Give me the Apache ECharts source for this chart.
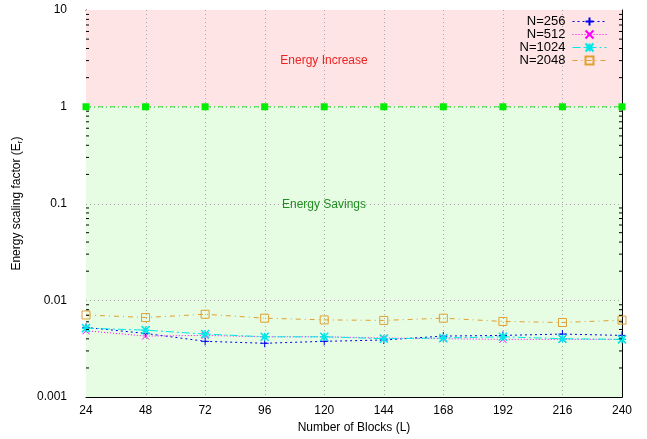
<!DOCTYPE html>
<html><head><meta charset="utf-8">
<script src="https://cdn.jsdelivr.net/npm/echarts@6/dist/echarts.min.js"></script>
<style>html,body{margin:0;padding:0;background:#fff}#c{width:647px;height:439px}</style>
</head><body><div id="c"></div>
<script>
var blocks = [24, 48, 72, 96, 120, 144, 168, 192, 216, 240];
var n256  = [0.00525, 0.00455, 0.00377, 0.00360, 0.00377, 0.00389, 0.00427, 0.00434, 0.00448, 0.00434];
var n512  = [0.00485, 0.00427, 0.00434, 0.00420, 0.00420, 0.00408, 0.00401, 0.00395, 0.00395, 0.00395];
var n1024 = [0.00516, 0.00492, 0.00448, 0.00420, 0.00420, 0.00401, 0.00408, 0.00420, 0.00401, 0.00395];
var n2048 = [0.00706, 0.00664, 0.00718, 0.00654, 0.00628, 0.00620, 0.00654, 0.00605, 0.00590, 0.00624];
var baseline = [1, 1, 1, 1, 1, 1, 1, 1, 1, 1];
var seriesNames = ['N=256', 'N=512', 'N=1024', 'N=2048'];
var yTickLabels = ['0.001', '0.01', '0.1', '1', '10'];

function pairs(arr){ return blocks.map(function(x,i){ return [x, arr[i]]; }); }

var FONT = 'Liberation Sans, Arial, sans-serif';
var PLUS = 'path://M5,0L5,10M0,5L10,5';
var CROSS = 'path://M0,0L10,10M10,0L0,10';
var STAR = 'path://M5,0L5,10M0,5L10,5M0,0L10,10M10,0L0,10';
var SQUARE = 'path://M0,0L10,0L10,10L0,10Z';

var minorVals = [];
for (var k = -3; k <= 0; k++) for (var m = 2; m <= 9; m++) minorVals.push([24, m * Math.pow(10, k)]);
var gridX = blocks.slice(1, blocks.length - 1);
var gridY = [0.01, 0.1, 1];

function mkSeries(name, arr, color, dash, symbol, size, width){
  return {
    name: name, type: 'line', data: pairs(arr), symbol: symbol, symbolSize: size,
    lineStyle: {color: color, width: 1, type: dash},
    itemStyle: {color: 'rgba(0,0,0,0)', borderColor: color, borderWidth: width || 1},
    z: 5, animation: false
  };
}

var GRIDSTYLE = {stroke: '#a8a8a8', lineWidth: 1, lineDash: [1, 3]};
var legendTops = [15, 28, 41, 54];

var chart = echarts.init(document.getElementById('c'), null, {renderer: 'canvas'});
chart.setOption({
  animation: false,
  backgroundColor: '#fff',
  textStyle: {fontFamily: FONT},
  grid: {left: 86, right: 25, top: 10, bottom: 41},
  legend: seriesNames.map(function(n, i){
    return {
      data: [n], orient: 'vertical', align: 'right', right: 40, top: legendTops[i],
      padding: 0, itemWidth: 34, itemHeight: 10,
      lineStyle: {width: 1},
      textStyle: {fontFamily: FONT, fontSize: 13, color: '#000', padding: [0, 2, 0, 0]}
    };
  }),
  xAxis: [{
    type: 'value', min: 24, max: 240, interval: 24,
    name: 'Number of Blocks (L)', nameLocation: 'middle', nameGap: 23,
    nameTextStyle: {fontFamily: FONT, fontSize: 12, color: '#000'},
    axisLine: {show: true, lineStyle: {color: '#000', width: 1}},
    axisTick: {show: true, inside: true, length: 5, lineStyle: {color: '#000'}},
    axisLabel: {color: '#000', fontSize: 12, fontFamily: FONT, margin: 8},
    splitLine: {show: false}
  }, {
    type: 'value', min: 24, max: 240, interval: 24, position: 'top',
    axisLine: {show: true, onZero: false, lineStyle: {color: '#000', width: 1}},
    axisTick: {show: true, inside: true, length: 5, lineStyle: {color: '#000'}},
    axisLabel: {show: false}, splitLine: {show: false}
  }],
  yAxis: [{
    type: 'log', logBase: 10, min: 0.001, max: 10,
    name: 'Energy scaling factor (E{sub|r})', nameLocation: 'middle', nameGap: 62,
    nameTextStyle: {fontFamily: FONT, fontSize: 12, color: '#000',
      rich: {sub: {fontSize: 8, verticalAlign: 'bottom', padding: [6, 0, 0, 0], fontFamily: FONT}}},
    axisLine: {show: true, lineStyle: {color: '#000', width: 1}},
    axisTick: {show: true, inside: true, length: 6, lineStyle: {color: '#000'}},
    axisLabel: {color: '#000', fontSize: 12, fontFamily: FONT, margin: 19,
      formatter: function(v){
        var e = Math.round(Math.log10(v));
        return yTickLabels[e + 3];
      }},
    splitLine: {show: false}
  }, {
    type: 'log', logBase: 10, min: 0.001, max: 10, position: 'right',
    axisLine: {show: true, onZero: false, lineStyle: {color: '#000', width: 1}},
    axisTick: {show: true, inside: true, length: 6, lineStyle: {color: '#000'}},
    axisLabel: {show: false}, splitLine: {show: false}
  }],
  series: [
    {
      name: 'bg', type: 'line', data: [], silent: true, z: 0,
      markArea: {silent: true, data: [
        [{yAxis: 1, itemStyle: {color: '#fee4e4'}}, {yAxis: 10}],
        [{yAxis: 0.001, itemStyle: {color: '#e6fde4'}}, {yAxis: 1}]
      ]}
    },
    {
      name: 'gridV', type: 'custom', data: gridX.map(function(x){ return [x, 1]; }), silent: true, z: 1,
      renderItem: function(params, api){
        var a = api.coord([api.value(0), 10]);
        var b = api.coord([api.value(0), 0.001]);
        var x = Math.round(a[0]) + 0.5;
        return {type: 'line', shape: {x1: x, y1: a[1], x2: x, y2: b[1]}, style: GRIDSTYLE};
      }
    },
    {
      name: 'gridH', type: 'custom', data: gridY.map(function(y){ return [24, y]; }), silent: true, z: 1,
      renderItem: function(params, api){
        var a = api.coord([24, api.value(1)]);
        var b = api.coord([240, api.value(1)]);
        var y = Math.round(a[1]) + 0.5;
        return {type: 'line', shape: {x1: a[0], y1: y, x2: b[0], y2: y}, style: GRIDSTYLE};
      }
    },
    {
      name: 'minor', type: 'custom', data: minorVals, silent: true, z: 6,
      renderItem: function(params, api){
        var p = api.coord([24, api.value(1)]);
        var r = api.coord([240, api.value(1)]);
        return {type: 'group', children: [
          {type: 'line', shape: {x1: p[0], y1: p[1], x2: p[0] + 3, y2: p[1]}, style: {stroke: '#000', lineWidth: 1}},
          {type: 'line', shape: {x1: r[0], y1: r[1], x2: r[0] - 3, y2: r[1]}, style: {stroke: '#000', lineWidth: 1}}
        ]};
      }
    },
    {
      name: 'baseline', type: 'line', data: pairs(baseline), symbol: 'rect', symbolSize: 7,
      lineStyle: {color: '#22ee22', width: 1, type: [5, 3, 1, 3]},
      itemStyle: {color: '#00ee00'}, z: 4
    },
    mkSeries(seriesNames[0], n256, '#0000ee', [2, 3], PLUS, 8),
    mkSeries(seriesNames[1], n512, '#ff00ff', [1, 2], CROSS, 7),
    mkSeries(seriesNames[2], n1024, '#00e8e8', [8, 3, 2, 3], STAR, 8, 1.5),
    mkSeries(seriesNames[3], n2048, '#e0a030', [5, 4, 1, 4], SQUARE, 8)
  ],
  graphic: [
    {type: 'text', x: 324, y: 61, z: 10, style: {text: 'Energy Increase', fill: '#ee2222', font: '12px ' + FONT, align: 'center', verticalAlign: 'middle'}},
    {type: 'text', x: 324, y: 205, z: 10, style: {text: 'Energy Savings', fill: '#228b22', font: '12px ' + FONT, align: 'center', verticalAlign: 'middle'}}
  ]
});
</script></body></html>
